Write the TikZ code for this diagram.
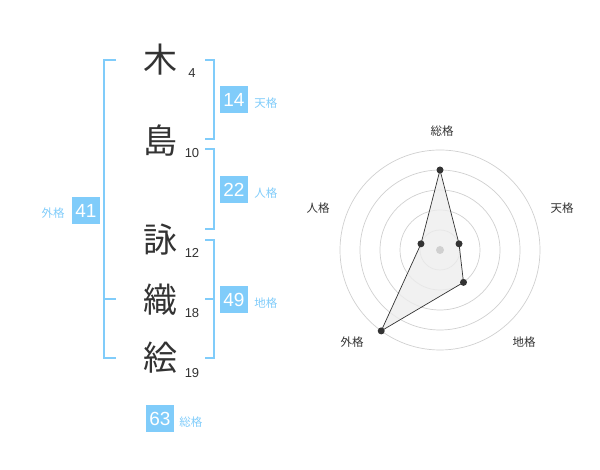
\documentclass[tikz,border=0pt]{standalone}
\usepackage{fontspec}
\setmainfont{Liberation Sans}
\newfontfamily\jpfont{Noto Sans CJK JP}
\usetikzlibrary{positioning}
\definecolor{kaku}{RGB}{128,204,250}
\definecolor{ink}{RGB}{51,51,51}
\definecolor{ring}{RGB}{208,208,208}

\begin{document}
\begin{tikzpicture}[x=1pt,y=1pt,
    kanji/.style={text=ink, inner sep=0pt, font=\jpfont\fontsize{34}{34}\selectfont},
    strokes/.style={text=ink, inner sep=0pt, font=\fontsize{13}{13}\selectfont},
    kakubox/.style={fill=kaku, text=white, inner sep=0pt, minimum width=28pt, minimum height=27pt, font=\fontsize{19}{19}\selectfont},
    kakulabel/.style={text=kaku, inner sep=0pt, font=\jpfont\fontsize{11.5}{11.5}\selectfont},
    bracket/.style={draw=kaku, line width=2pt},
    axislabel/.style={text=ink, inner sep=0pt, font=\jpfont\fontsize{11.5}{11.5}\selectfont}]
    \useasboundingbox (0,0) rectangle (600,470);
    % Draw the name, one character per line
    \node[kanji] (k1) at (160,410) {木};
    \node[kanji] (k2) at (160,329) {島};
    \node[kanji] (k3) at (160,230) {詠};
    \node[kanji] (k4) at (160,170) {織};
    \node[kanji] (k5) at (160,112) {絵};
    % Stroke counts
    \node[strokes] (n1) at (192,397) {4};
    \node[strokes] (n2) at (192,317) {10};
    \node[strokes] (n3) at (192,217) {12};
    \node[strokes] (n4) at (192,157) {18};
    \node[strokes] (n5) at (192,97) {19};
    % Draw the brackets
    \draw[bracket] (205,410) -- (214,410) -- (214,331) -- (205,331);
    \draw[bracket] (205,321) -- (214,321) -- (214,241) -- (205,241);
    \draw[bracket] (205,230) -- (214,230) -- (214,112) -- (205,112);
    \draw[bracket] (205,171) -- (214,171);
    \draw[bracket] (116,410) -- (104,410) -- (104,112) -- (116,112);
    \draw[bracket] (104,171) -- (116,171);
    % Boxes with the sums
    \node[kakubox] (ten) at (234,370) {14};
    \node[kakulabel, right=6pt of ten, yshift=-3pt] (tenL) {天格};
    \node[kakubox] (jin) at (234,280) {22};
    \node[kakulabel, right=6pt of jin, yshift=-3pt] (jinL) {人格};
    \node[kakubox] (chi) at (234,170) {49};
    \node[kakulabel, right=6pt of chi, yshift=-3pt] (chiL) {地格};
    \node[kakubox] (gai) at (86,259) {41};
    \node[kakulabel, left=7pt of gai, yshift=-2pt] (gaiL) {外格};
    \node[kakubox] (sou) at (160,51) {63};
    \node[kakulabel, right=5pt of sou, yshift=-3pt] (souL) {総格};
    % Draw the radar chart
    \begin{scope}[shift={(440,220)}]
        \foreach \r in {20,40,60,80,100}
            \draw[ring, line width=0.7pt] (0,0) circle (\r pt);
        \coordinate (pSou) at (90:80);
        \coordinate (pTen) at (18:20);
        \coordinate (pChi) at (-54:40);
        \coordinate (pGai) at (-126:100);
        \coordinate (pJin) at (162:20);
        \draw[ink, fill=black!7, fill opacity=0.8, line width=0.7pt]
            (pSou) -- (pTen) -- (pChi) -- (pGai) -- (pJin) -- cycle;
        \foreach \p in {pSou,pTen,pChi,pGai,pJin}
            \fill[ink] (\p) circle (3.5pt);
        \fill[ring] (0,0) circle (4pt);
    \end{scope}
    % Label the axes
    \node[axislabel] (aSou) at (442,339) {総格};
    \node[axislabel] (aTen) at (562,262) {天格};
    \node[axislabel] (aChi) at (524,128) {地格};
    \node[axislabel] (aGai) at (352,128) {外格};
    \node[axislabel] (aJin) at (318,262) {人格};
\end{tikzpicture}
\end{document}
